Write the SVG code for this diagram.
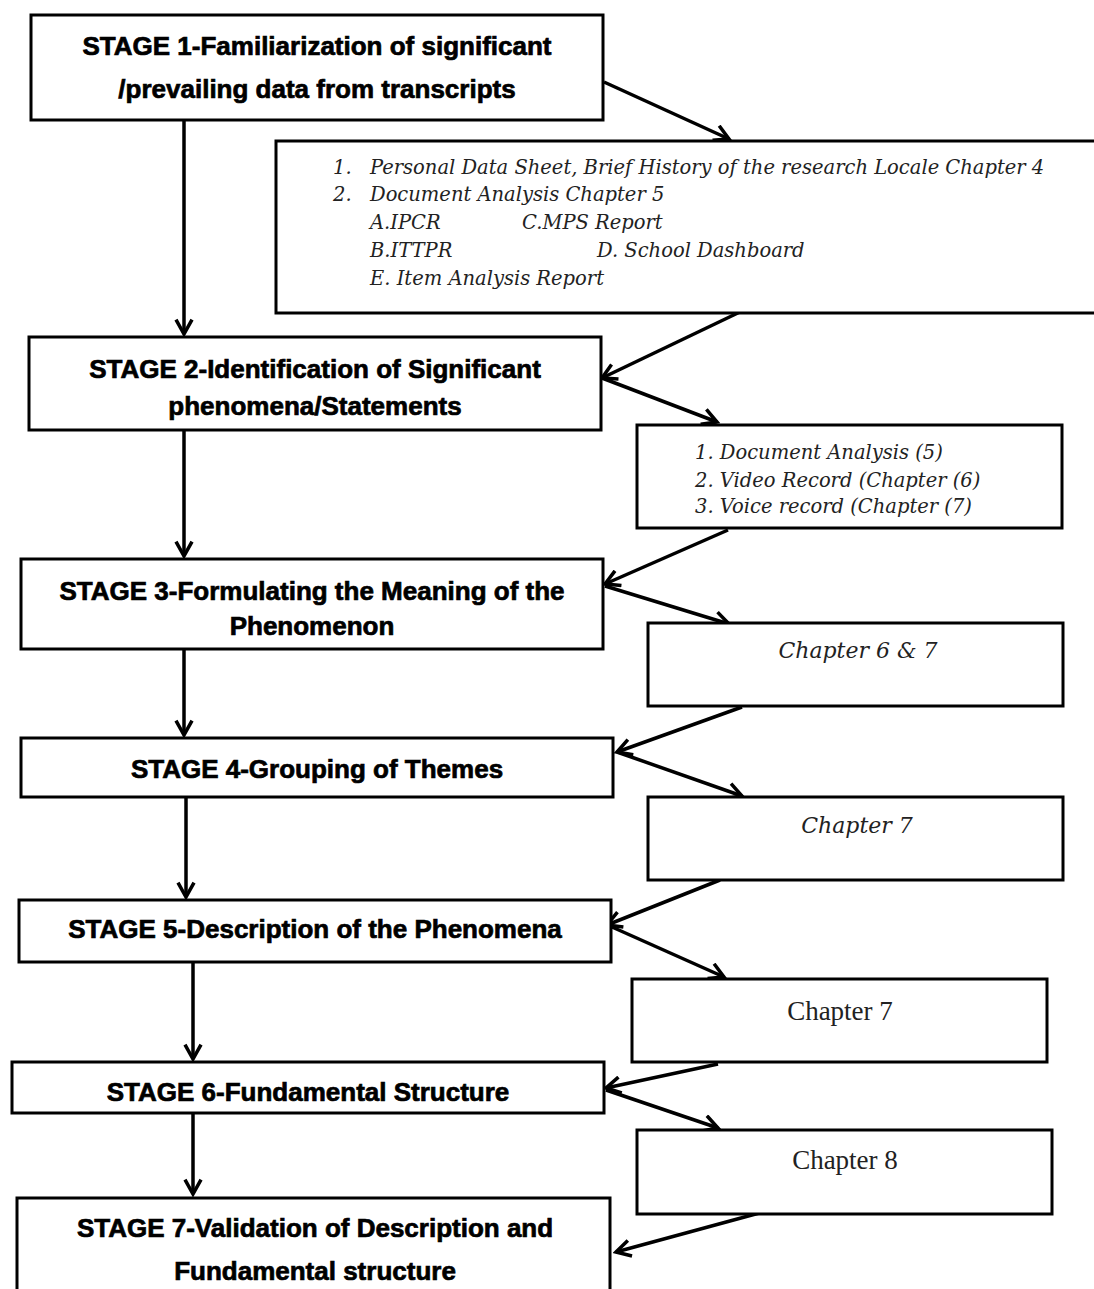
<svg xmlns="http://www.w3.org/2000/svg" width="1094" height="1289" viewBox="0 0 1094 1289">
<style>
.box{fill:#fff;stroke:#000;stroke-width:3}
.stage{font-family:"Liberation Sans",Arial,sans-serif;font-weight:bold;font-size:26px;fill:#000;text-anchor:middle;stroke:#000;stroke-width:0.7}
.it{font-family:"DejaVu Serif",serif;font-style:italic;font-size:19.5px;fill:#222}
.up{font-family:"Liberation Serif",serif;font-size:27px;fill:#222;text-anchor:middle}
.con{stroke:#000;stroke-width:3.5;fill:none;marker-end:url(#ah)}
</style>
<defs>
<marker id="ah" viewBox="0 0 12 12" refX="10" refY="6" markerWidth="5.5" markerHeight="5.5" markerUnits="strokeWidth" orient="auto">
<path d="M1,1 L10,6 L1,11" fill="none" stroke="#000" stroke-width="2.2"/>
</marker>
</defs>
<rect width="1094" height="1289" fill="#fff"/>
<g id="connectors">
<line class="con" x1="184" y1="120" x2="184" y2="334"/>
<line class="con" x1="184" y1="431" x2="184" y2="556"/>
<line class="con" x1="184" y1="650" x2="184" y2="735"/>
<line class="con" x1="186" y1="798" x2="186" y2="897"/>
<line class="con" x1="193" y1="963" x2="193" y2="1059"/>
<line class="con" x1="193" y1="1114" x2="193" y2="1194"/>
<line class="con" x1="604" y1="82" x2="729" y2="139"/>
<line class="con" x1="742" y1="311" x2="602" y2="378"/>
<line class="con" x1="602" y1="378" x2="717" y2="422"/>
<line class="con" x1="728" y1="530" x2="605" y2="584"/>
<line class="con" x1="605" y1="586" x2="729" y2="624"/>
<line class="con" x1="742" y1="707" x2="617" y2="752"/>
<line class="con" x1="617" y1="752" x2="742" y2="796"/>
<line class="con" x1="720" y1="880" x2="607" y2="925"/>
<line class="con" x1="612" y1="927" x2="724" y2="977"/>
<line class="con" x1="718" y1="1064" x2="606" y2="1088"/>
<line class="con" x1="606" y1="1090" x2="718" y2="1128"/>
<line class="con" x1="763" y1="1212" x2="616" y2="1252"/>
</g>
<g id="stage1">
<rect class="box" x="31" y="15" width="572" height="105"/>
<text class="stage" x="317" y="55">STAGE 1-Familiarization of significant</text>
<text class="stage" x="317" y="98">/prevailing data from transcripts</text>
</g>
<g id="sources1">
<rect class="box" x="276" y="141" width="830" height="172"/>
<text class="it" x="333" y="174">1.</text>
<text class="it" x="370" y="174">Personal Data Sheet, Brief History of the research Locale Chapter 4</text>
<text class="it" x="333" y="201">2.</text>
<text class="it" x="370" y="201">Document Analysis Chapter 5</text>
<text class="it" x="370" y="229">A.IPCR</text>
<text class="it" x="522" y="229">C.MPS Report</text>
<text class="it" x="370" y="257">B.ITTPR</text>
<text class="it" x="597" y="257">D. School Dashboard</text>
<text class="it" x="370" y="285">E. Item Analysis Report</text>
</g>
<g id="stage2">
<rect class="box" x="29" y="337" width="572" height="93"/>
<text class="stage" x="315" y="378">STAGE 2-Identification of Significant</text>
<text class="stage" x="315" y="415">phenomena/Statements</text>
</g>
<g id="sources2">
<rect class="box" x="637" y="425" width="425" height="103"/>
<text class="it" x="695" y="459">1. Document Analysis (5)</text>
<text class="it" x="695" y="487">2. Video Record (Chapter (6)</text>
<text class="it" x="695" y="513">3. Voice record (Chapter (7)</text>
</g>
<g id="stage3">
<rect class="box" x="21" y="559" width="582" height="90"/>
<text class="stage" x="312" y="600">STAGE 3-Formulating the Meaning of the</text>
<text class="stage" x="312" y="635">Phenomenon</text>
</g>
<g id="chapter67">
<rect class="box" x="648" y="623" width="415" height="83"/>
<text class="it" x="858" y="658" text-anchor="middle" style="font-size:22px">Chapter 6 &amp; 7</text>
</g>
<g id="stage4">
<rect class="box" x="21" y="738" width="592" height="59"/>
<text class="stage" x="317" y="778">STAGE 4-Grouping of Themes</text>
</g>
<g id="chapter7a">
<rect class="box" x="648" y="797" width="415" height="83"/>
<text class="it" x="857" y="833" text-anchor="middle" style="font-size:22px">Chapter 7</text>
</g>
<g id="stage5">
<rect class="box" x="19" y="900" width="592" height="62"/>
<text class="stage" x="315" y="938">STAGE 5-Description of the Phenomena</text>
</g>
<g id="chapter7b">
<rect class="box" x="632" y="979" width="415" height="83"/>
<text class="up" x="840" y="1020">Chapter 7</text>
</g>
<g id="stage6">
<rect class="box" x="12" y="1062" width="592" height="51"/>
<text class="stage" x="308" y="1101">STAGE 6-Fundamental Structure</text>
</g>
<g id="chapter8">
<rect class="box" x="637" y="1130" width="415" height="84"/>
<text class="up" x="845" y="1169">Chapter 8</text>
</g>
<g id="stage7">
<rect class="box" x="17" y="1198" width="593" height="110"/>
<text class="stage" x="315" y="1237">STAGE 7-Validation of Description and</text>
<text class="stage" x="315" y="1280">Fundamental structure</text>
</g>
</svg>
